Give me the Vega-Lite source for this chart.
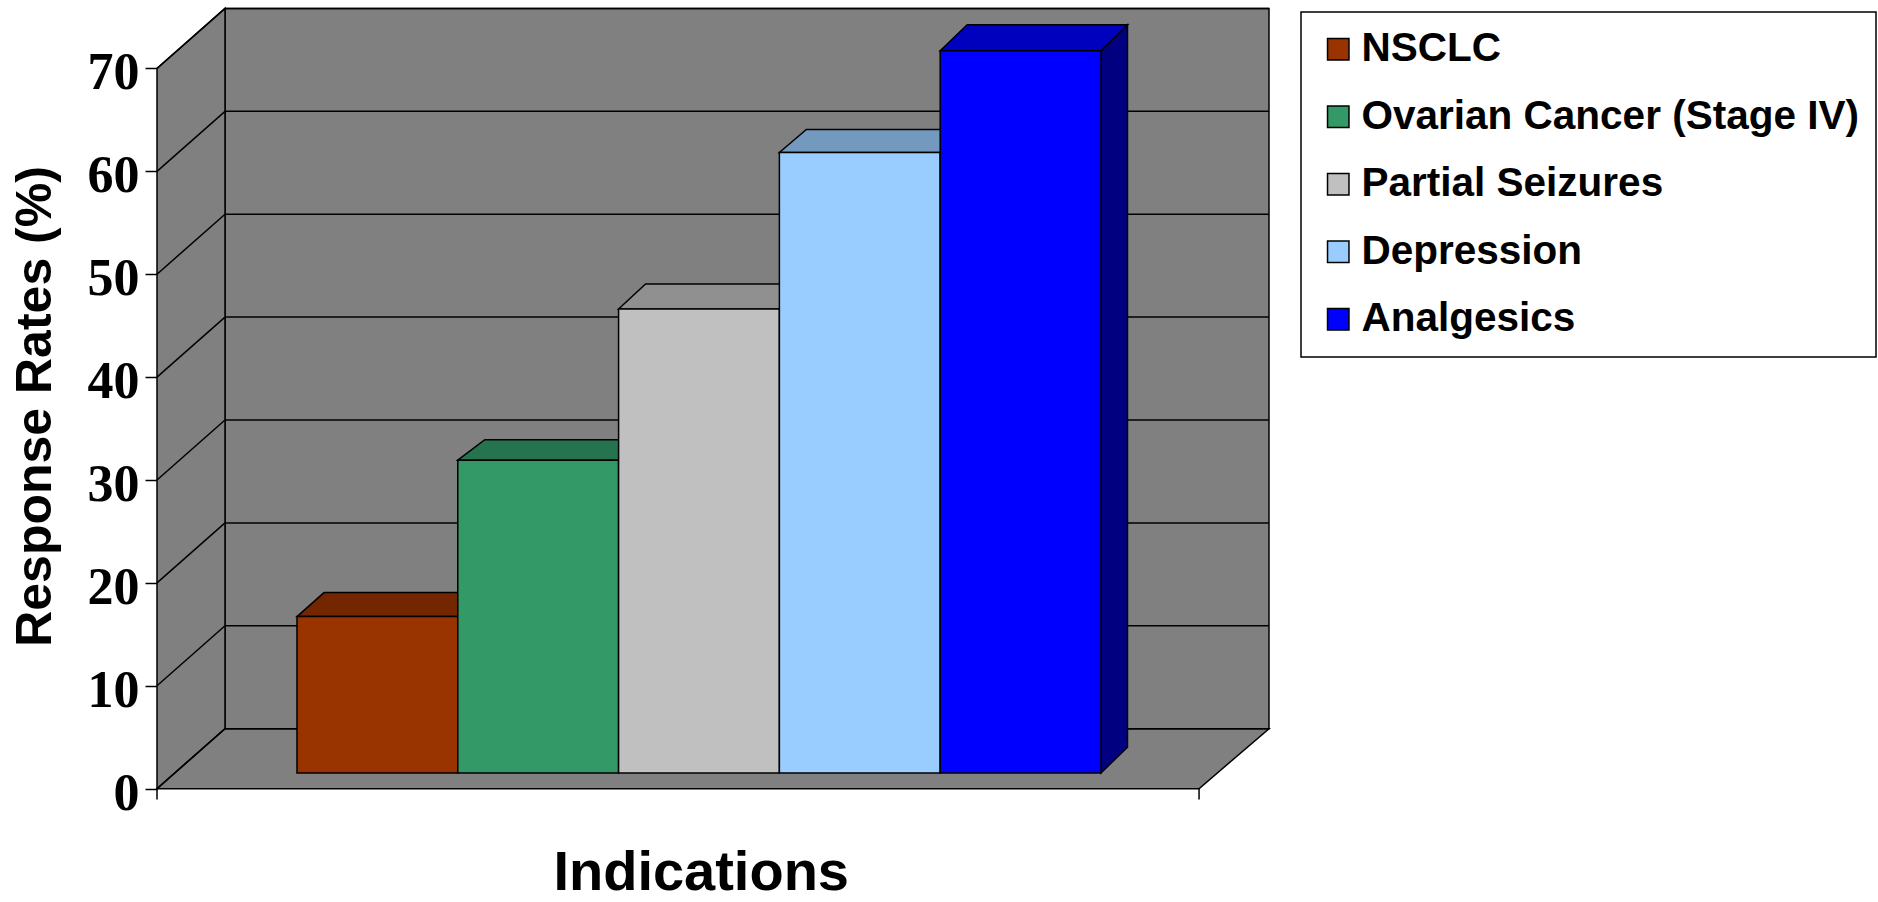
{
"$schema":"https://vega.github.io/schema/vega-lite/v6.json",
"width":1112,"height":788.7,
"autosize":"none",
"padding":{"left":157,"top":0,"right":609,"bottom":113.3},
"background":"white",
"config":{"view":{"stroke":null},"legend":{"strokeWidth":1.5}},
"datasets":{
"bars":[
{"indication":"NSCLC","response":15.2},
{"indication":"Ovarian Cancer (Stage IV)","response":30.4},
{"indication":"Partial Seizures","response":45.1},
{"indication":"Depression","response":60.3},
{"indication":"Analgesics","response":70.2}],
"ticks":[{"tick":0},{"tick":10},{"tick":20},{"tick":30},{"tick":40},{"tick":50},{"tick":60},{"tick":70}]
},
"resolve":{"scale":{"x":"independent"},"axis":{"x":"independent"}},
"layer":[
{"data":{"values":[{"part":"back wall"}]},
 "mark":{"type":"rect","fill":"#808080","stroke":"black","strokeWidth":1.5},
 "encoding":{
  "x":{"datum":0.423,"type":"quantitative","scale":{"domain":[0,6.915]},"axis":null},
  "x2":{"datum":6.915},
  "y":{"datum":5.83,"type":"quantitative","scale":{"domain":[0,76.65],"nice":false},
   "axis":{"orient":"left","values":[0,10,20,30,40,50,60,70],"grid":false,"domain":false,"tickSize":12,"tickWidth":1.5,"tickColor":"black",
    "labelFont":"Liberation Serif","labelFontWeight":"bold","labelFontSize":52,"labelColor":"black","labelPadding":6,"labelBaseline":"middle","labelOffset":4.5,
    "title":"Response Rates (%)","titleFont":"Liberation Sans","titleFontWeight":"bold","titleFontSize":50,"titleColor":"black","titleX":-107,"titleY":406,"titleBaseline":"alphabetic"}},
  "y2":{"datum":75.83}}},
{"data":{"values":[{"part":"left wall"}]},
 "mark":{"type":"point","filled":true,"opacity":1,"size":4,"fill":"#808080","stroke":"black","strokeWidth":1.5,
  "shape":"M0,0L68,-60L68,-780.2L0,-720.2Z"},
 "encoding":{"x":{"datum":0,"type":"quantitative","scale":{"domain":[0,6.915]},"axis":null},"y":{"datum":0,"type":"quantitative","scale":{"domain":[0,76.65],"nice":false}}}},
{"data":{"values":[{"part":"floor"}]},
 "mark":{"type":"point","filled":true,"opacity":1,"size":4,"fill":"#808080","stroke":"black","strokeWidth":1.5,
  "shape":"M0,0L68,-60L1112,-60L1042,0Z"},
 "encoding":{"x":{"datum":0,"type":"quantitative","scale":{"domain":[0,6.915]},"axis":null},"y":{"datum":0,"type":"quantitative","scale":{"domain":[0,76.65],"nice":false}}}},
{"data":{"name":"ticks"},
 "mark":{"type":"rule","stroke":"black","strokeWidth":1.5,"yOffset":-60,"y2Offset":-60},
 "encoding":{"x":{"datum":0.423,"type":"quantitative","scale":{"domain":[0,6.915]},"axis":null},"x2":{"datum":6.915},"y":{"field":"tick","type":"quantitative","scale":{"domain":[0,76.65],"nice":false}},"y2":{"field":"tick"}}},
{"data":{"name":"ticks"},
 "mark":{"type":"rule","stroke":"black","strokeWidth":1.5,"y2Offset":-60},
 "encoding":{"x":{"datum":0,"type":"quantitative","scale":{"domain":[0,6.915]},"axis":null},"x2":{"datum":0.423},"y":{"field":"tick","type":"quantitative","scale":{"domain":[0,76.65],"nice":false}},"y2":{"field":"tick"}}},
{"data":{"values":[{"part":"right tick"}]},
 "mark":{"type":"rule","stroke":"black","strokeWidth":1.5},
 "encoding":{"x":{"datum":6.48,"type":"quantitative","scale":{"domain":[0,6.915]},"axis":null},"y":{"datum":0,"type":"quantitative","scale":{"domain":[0,76.65],"nice":false}},"y2":{"datum":-1.05}}},
{"data":{"values":[{"part":"left tick"}]},
 "mark":{"type":"rule","stroke":"black","strokeWidth":1.5},
 "encoding":{"x":{"datum":0,"type":"quantitative","scale":{"domain":[0,6.915]},"axis":null},"y":{"datum":0,"type":"quantitative","scale":{"domain":[0,76.65],"nice":false}},"y2":{"datum":-1.05}}},
{"data":{"name":"bars"},
 "transform":[{"filter":"datum.indication === 'Analgesics'"}],
 "mark":{"type":"point","filled":true,"opacity":1,"size":4,"fill":"#000080","stroke":"black","strokeWidth":1.5,"yOffset":-15.7,
  "shape":"M80.4,0L106.9,-26L106.9,696.4L80.4,722.4Z"},
 "encoding":{
  "x":{"field":"indication","type":"nominal","sort":null,"scale":{"type":"band","domain":["NSCLC","Ovarian Cancer (Stage IV)","Partial Seizures","Depression","Analgesics"],"paddingInner":0,"paddingOuter":0.9577,"align":0.4545},"axis":null},
  "y":{"field":"response","type":"quantitative","scale":{"domain":[0,76.65],"nice":false}}}},
{"data":{"name":"bars"},
 "mark":{"type":"point","filled":true,"opacity":1,"size":4,"stroke":"black","strokeWidth":1.5,"yOffset":-15.7},
 "encoding":{
  "x":{"field":"indication","type":"nominal","sort":null,"scale":{"type":"band","domain":["NSCLC","Ovarian Cancer (Stage IV)","Partial Seizures","Depression","Analgesics"],"paddingInner":0,"paddingOuter":0.9577,"align":0.4545},"axis":null},
  "y":{"field":"response","type":"quantitative","scale":{"domain":[0,76.65],"nice":false}},
  "shape":{"field":"indication","type":"nominal","legend":null,"scale":{"domain":["Depression","NSCLC","Analgesics","Partial Seizures","Ovarian Cancer (Stage IV)"],
   "range":["M-80.4,0L-53.4,-23L107,-23L80.4,0Z","M-80.4,0L-53.4,-24L107,-24L80.4,0Z","M-80.4,0L-53.4,-26L107,-26L80.4,0Z","M-80.4,0L-53.4,-25L107,-25L80.4,0Z","M-80.4,0L-53.4,-20.5L107,-20.5L80.4,0Z"]}},
  "color":{"field":"indication","type":"nominal","legend":null,"scale":{"domain":["Analgesics","Depression","Partial Seizures","Ovarian Cancer (Stage IV)","NSCLC"],"range":["#0000BF","#7399BF","#909090","#267350","#732600"]}}}},
{"data":{"name":"bars"},
 "mark":{"type":"rect","stroke":"black","strokeWidth":1.5,"yOffset":-15.7,"y2Offset":-15.7},
 "encoding":{
  "x":{"field":"indication","type":"nominal","sort":null,"scale":{"type":"band","domain":["NSCLC","Ovarian Cancer (Stage IV)","Partial Seizures","Depression","Analgesics"],"paddingInner":0,"paddingOuter":0.9577,"align":0.4545},
   "axis":{"title":"Indications","labels":false,"ticks":false,"domain":false,"titleFont":"Liberation Sans","titleFontWeight":"bold","titleFontSize":56,"titleColor":"black","titleX":543.7,"titleY":101,"titleBaseline":"alphabetic"}},
  "y":{"field":"response","type":"quantitative","scale":{"domain":[0,76.65],"nice":false}},
  "y2":{"datum":0},
  "fill":{"field":"indication","type":"nominal","sort":null,
   "scale":{"domain":["NSCLC","Ovarian Cancer (Stage IV)","Partial Seizures","Depression","Analgesics"],"range":["#993300","#339966","#C0C0C0","#99CCFF","#0000FF"]},
   "legend":{"orient":"none","legendX":1144,"legendY":12,"title":null,"fillColor":"white","strokeColor":"black","padding":17,
    "symbolType":"square","symbolSize":460,"symbolStrokeColor":"black","symbolStrokeWidth":1.5,"symbolOpacity":1,
    "labelFont":"Liberation Sans","labelFontWeight":"bold","labelFontSize":40.5,"labelColor":"black","labelOffset":3,"rowPadding":26.5,"labelLimit":600}}}}
]
}
